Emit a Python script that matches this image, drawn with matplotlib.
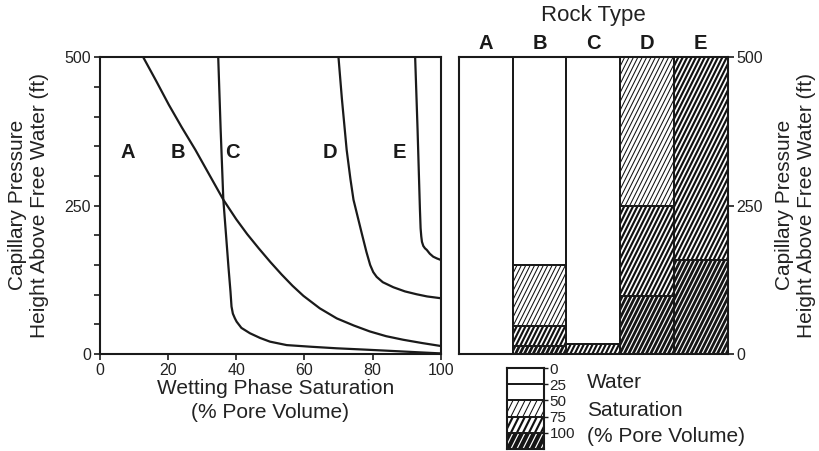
import matplotlib
matplotlib.use('Agg')
import matplotlib.pyplot as plt
import numpy as np
from matplotlib.collections import LineCollection

plt.rcParams['font.family'] = ['Liberation Sans', 'DejaVu Sans']

# ---------------- data ----------------
sat_B = [12.7, 16.5, 20.2, 24.0, 28.0, 32.0, 36.2, 40.0, 43.2, 46.6, 50.0,
         53.3, 56.5, 59.7, 64.5, 69.5, 74.5, 79.2, 84.0, 89.0, 94.5, 100.0]
h_B = [500, 460, 420, 382, 344, 303, 260, 227, 202, 178, 155,
       134, 115, 98, 77, 60, 48, 38, 30, 24, 18.5, 13.5]
sat_C = [34.7, 35.4, 36.2, 37.0, 37.7, 38.3, 38.6, 39.0, 39.6, 40.1, 41.5,
         44.0, 47.0, 49.9, 54.8, 62.0, 69.5, 77.0, 84.1, 92.0, 100.0]
h_C = [500, 380, 260, 200, 147, 105, 80, 68, 60, 54.5, 44,
       35, 27, 20.8, 15, 12.2, 9.6, 7.6, 5.6, 3.3, 1]
sat_D = [70.0, 71.0, 72.4, 73.5, 74.4, 75.6, 76.8, 78.2, 79.3, 80.2, 81.2,
         83.0, 86.1, 89.5, 92.9, 96.0, 100.0]
h_D = [500, 430, 344, 295, 260, 232, 204, 172, 150, 138, 130,
       121, 112.5, 105.5, 100.7, 97, 94]
sat_E = [92.5, 93.2, 93.9, 94.1, 94.3, 94.5, 94.9, 95.4, 95.9, 96.8, 97.8,
         98.9, 100.0]
h_E = [500, 380, 244, 212, 198, 189, 182, 178, 175.5, 169, 164,
       161, 158.6]

curve_labels = ['A', 'B', 'C', 'D', 'E']
curve_label_x = [8.2, 23.0, 39.0, 67.5, 88.0]
curve_label_y = [339, 339, 339, 339, 339]

rock_types = ['A', 'B', 'C', 'D', 'E']
seg_rock = ['A', 'B', 'B', 'B', 'B', 'C', 'C', 'D', 'D', 'D', 'E', 'E']
seg_bottom = [0, 0, 13, 48, 150, 0, 17, 0, 98, 250, 0, 158]
seg_top = [500, 13, 48, 150, 500, 17, 500, 98, 250, 500, 158, 500]
seg_class = ['white', 'dark', 'medium', 'light', 'white', 'medium', 'white',
             'dark', 'medium', 'light', 'dark', 'medium']

legend_levels = [0, 25, 50, 75, 100]
legend_class = ['white', 'white', 'light', 'medium', 'dark']

# ---------------- styles ----------------
STYLE = {
    'white': dict(face='white', line=None, lw=0),
    'light': dict(face='white', line='#111111', lw=0.75),
    'medium': dict(face='white', line='#111111', lw=1.55),
    'dark': dict(face='#151515', line='white', lw=0.85),
}
INK = '#1a1a1a'
TXT = '#222222'

FIG_W, FIG_H, DPI = 8.2, 4.51, 100
fig = plt.figure(figsize=(FIG_W, FIG_H), dpi=DPI)


def hatch_patch(ax, patch, cls, spacing_px=4.4, slope=2.0):
    st = STYLE[cls]
    if st['line'] is None:
        return
    pos = ax.get_position()
    xl = ax.get_xlim()
    yl = ax.get_ylim()
    sx = pos.width * FIG_W * DPI / (xl[1] - xl[0])
    sy = pos.height * FIG_H * DPI / (yl[1] - yl[0])
    x0, y0 = patch.get_x(), patch.get_y()
    w, h = patch.get_width(), patch.get_height()
    Wp = abs(w * sx)
    Hp = abs(h * sy)
    ylo = y0 if sy > 0 else y0 + h
    segs = []
    c = -Hp / slope
    while c < Wp:
        xa, ya = c, 0.0
        xb, yb = c + Hp / slope, Hp
        segs.append([(x0 + xa / sx, ylo + ya / sy), (x0 + xb / sx, ylo + yb / sy)])
        c += spacing_px
    lc = LineCollection(segs, colors=st['line'], linewidths=st['lw'], zorder=1.5)
    ax.add_collection(lc)
    lc.set_clip_path(patch)


# ---------------- left: capillary pressure curves ----------------
ax = fig.add_axes([100 / 820, 1 - 354 / 451, 340.7 / 820, 296.7 / 451])
for s, h in [(sat_B, h_B), (sat_C, h_C), (sat_D, h_D), (sat_E, h_E)]:
    ax.plot(s, h, color=INK, lw=1.6, solid_capstyle='round', solid_joinstyle='round')
for lab, lx, ly in zip(curve_labels, curve_label_x, curve_label_y):
    ax.text(lx, ly, lab, ha='center', va='center', fontsize=14.5,
            fontweight='bold', color=INK)
ax.set_xlim(0, 100)
ax.set_ylim(0, 500)
ax.set_xticks(range(0, 101, 20))
ax.set_yticks([0, 250, 500])
ax.set_yticks(range(0, 501, 50), minor=True)
ax.tick_params(axis='both', which='both', direction='out', length=4.5, width=1.2,
               color=INK, labelsize=11.5, labelcolor=TXT, pad=2)
ax.tick_params(axis='x', which='minor', length=0)
for sp in ax.spines.values():
    sp.set_linewidth(1.5)
    sp.set_color(INK)

fig.text(18 / 820, 1 - 205 / 451, 'Capillary Pressure', rotation=90,
         ha='center', va='center', fontsize=15, color=TXT)
fig.text(40 / 820, 1 - 205 / 451, 'Height Above Free Water (ft)', rotation=90,
         ha='center', va='center', fontsize=15, color=TXT)
fig.text(276 / 820, 1 - 388 / 451, 'Wetting Phase Saturation',
         ha='center', va='center', fontsize=15, color=TXT)
fig.text(270 / 820, 1 - 412 / 451, '(% Pore Volume)',
         ha='center', va='center', fontsize=15, color=TXT)

# ---------------- right: rock type columns ----------------
ax2 = fig.add_axes([459 / 820, 1 - 354 / 451, 268.7 / 820, 296.7 / 451])
ax2.set_xlim(-0.5, len(rock_types) - 0.5)
ax2.set_ylim(0, 500)
xpos = {r: i for i, r in enumerate(rock_types)}
for r, b, t, cls in zip(seg_rock, seg_bottom, seg_top, seg_class):
    bar = ax2.bar(xpos[r], t - b, bottom=b, width=1.0,
                  color=STYLE[cls]['face'], edgecolor='none', zorder=1)[0]
    hatch_patch(ax2, bar, cls)
    ax2.bar(xpos[r], t - b, bottom=b, width=1.0, fill=False,
            edgecolor=INK, linewidth=1.4, zorder=3)
ax2.set_xticks([])
for i, r in enumerate(rock_types):
    ax2.text(i, 1.047, r, transform=ax2.get_xaxis_transform(), ha='center',
             va='center', fontsize=14.5, fontweight='bold', color=INK)
ax2.yaxis.tick_right()
ax2.set_yticks([0, 250, 500])
ax2.tick_params(axis='y', direction='out', length=4.5, width=1.2, color=INK,
                labelsize=11.5, labelcolor=TXT, pad=2)
for sp in ax2.spines.values():
    sp.set_linewidth(1.5)
    sp.set_color(INK)
    sp.set_zorder(4)

fig.text(593 / 820, 1 - 16 / 451, 'Rock Type', ha='center', va='center',
         fontsize=16, color=TXT)
fig.text(785 / 820, 1 - 205 / 451, 'Capillary Pressure', rotation=90,
         ha='center', va='center', fontsize=15, color=TXT)
fig.text(807 / 820, 1 - 205 / 451, 'Height Above Free Water (ft)', rotation=90,
         ha='center', va='center', fontsize=15, color=TXT)

# ---------------- legend ----------------
axL = fig.add_axes([507 / 820, 1 - 449 / 451, 37 / 820, 81 / 451])
axL.set_xlim(-0.5, 0.5)
axL.set_ylim(125, 0)
for lvl, cls in zip(legend_levels, legend_class):
    bar = axL.bar(0, 25, bottom=lvl, width=1.0, color=STYLE[cls]['face'],
                  edgecolor='none', zorder=1)[0]
    hatch_patch(axL, bar, cls, spacing_px=6.0)
    axL.bar(0, 25, bottom=lvl, width=1.0, fill=False, edgecolor=INK,
            linewidth=1.3, zorder=3)
axL.set_xticks([])
axL.yaxis.tick_right()
axL.set_yticks(legend_levels)
axL.set_yticklabels([str(v) for v in legend_levels])
axL.tick_params(axis='y', direction='out', length=3, width=1.0, color=INK,
                labelsize=11, labelcolor=TXT, pad=1)
for sp in axL.spines.values():
    sp.set_linewidth(1.5)
    sp.set_color(INK)
    sp.set_zorder(4)

fig.text(587 / 820, 1 - 383 / 451, 'Water', ha='left', va='center',
         fontsize=15, color=TXT)
fig.text(587 / 820, 1 - 410 / 451, 'Saturation', ha='left', va='center',
         fontsize=15, color=TXT)
fig.text(587 / 820, 1 - 437 / 451, '(% Pore Volume)', ha='left', va='center',
         fontsize=15, color=TXT)

fig.savefig('out.png', dpi=DPI)
